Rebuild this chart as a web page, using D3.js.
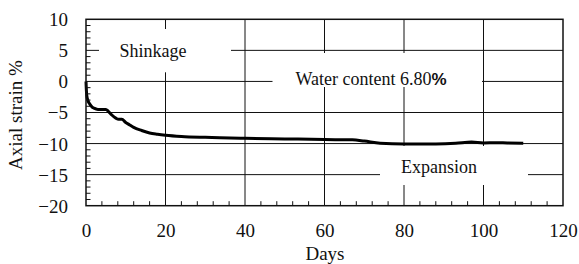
<!DOCTYPE html>
<html><head><meta charset="utf-8">
<script src="https://cdn.jsdelivr.net/npm/d3@7"></script>
<style>body{margin:0;background:#fff}svg{display:block}</style>
</head><body>
<svg id="c" width="579" height="264"></svg>
<script>
const days   = [0, 0.1, 0.2, 0.5, 1, 1.5, 2, 3, 4, 5, 5.6, 6.5, 7.5, 8.2, 9, 10, 11, 12, 14, 16, 18, 20, 24, 30, 40, 50, 60, 67, 70, 74, 80, 88, 93, 97, 100, 103, 106, 110];
const strain = [0, -1.5, -2.3, -3.1, -3.7, -4.1, -4.3, -4.5, -4.5, -4.5, -4.8, -5.4, -5.9, -6.1, -6.1, -6.6, -7.0, -7.4, -7.9, -8.3, -8.5, -8.65, -8.85, -9.0, -9.15, -9.25, -9.35, -9.4, -9.6, -9.95, -10.05, -10.05, -9.95, -9.75, -9.9, -9.85, -9.9, -9.95];
const xTicks = [0, 20, 40, 60, 80, 100, 120];
const yTicks = [10, 5, 0, -5, -10, -15, -20];
const xTitle = "Days";
const yTitle = "Axial strain %";

const svg = d3.select("#c");
const FONT = "'Liberation Serif', 'Times New Roman', serif";
const x = d3.scaleLinear().domain([0, 120]).range([86, 563]);
const y = d3.scaleLinear().domain([-20, 10]).range([205.7, 19.3]);
const ink = "#111";

// gridlines
const g = svg.append("g");
g.selectAll("line.v").data(xTicks.slice(1, -1)).join("line")
  .attr("x1", d => x(d)).attr("x2", d => x(d)).attr("y1", y(10)).attr("y2", y(-20))
  .attr("stroke", ink).attr("stroke-width", 1);
g.selectAll("line.h").data(yTicks.slice(1, -1)).join("line")
  .attr("x1", x(0)).attr("x2", x(120)).attr("y1", d => y(d)).attr("y2", d => y(d))
  .attr("stroke", ink).attr("stroke-width", 1);

// label boxes (white) that interrupt gridlines
const boxes = [
  {x0: 99, x1: 231, y0: 29, y1: 72.3, text: "Shinkage", tx: 153, ty: 57},
  {x0: 272.5, x1: 482, y0: 53, y1: 87, text: "Water content 6.80", pct: "%", tx: 371, ty: 85},
  {x0: 380, x1: 528, y0: 146, y1: 185, text: "Expansion", tx: 439, ty: 172.5}
];
svg.selectAll("rect.box").data(boxes).join("rect")
  .attr("x", d => d.x0).attr("y", d => d.y0)
  .attr("width", d => d.x1 - d.x0).attr("height", d => d.y1 - d.y0)
  .attr("fill", "#fff");
const lt = svg.selectAll("text.lbl").data(boxes).join("text")
  .attr("x", d => d.tx).attr("y", d => d.ty)
  .attr("text-anchor", "middle").attr("font-family", FONT).attr("font-size", 18).attr("fill", ink)
  .text(d => d.text);
lt.filter(d => d.pct).append("tspan").attr("font-weight", "bold").attr("font-family", "'Liberation Sans', Arial, sans-serif").attr("font-size", 17).text(d => d.pct);

// curve
const line = d3.line().x((d, i) => x(days[i])).y(d => y(d)).curve(d3.curveMonotoneX);
svg.append("path").datum(strain).attr("d", line)
  .attr("fill", "none").attr("stroke", "#000").attr("stroke-width", 3).attr("stroke-linejoin", "round");

// frame
svg.append("rect").attr("x", x(0)).attr("y", y(10)).attr("width", x(120) - x(0)).attr("height", y(-20) - y(10))
  .attr("fill", "none").attr("stroke", ink).attr("stroke-width", 1.5);

// minor ticks (inward)
const xMinor = d3.range(4, 120, 4).filter(d => d % 20 !== 0);
svg.selectAll("line.xm").data(xMinor).join("line")
  .attr("x1", d => x(d)).attr("x2", d => x(d)).attr("y1", y(-20)).attr("y2", y(-20) - 4.5)
  .attr("stroke", ink).attr("stroke-width", 1);
const yMinor = d3.range(-19, 10, 1).filter(d => d % 5 !== 0);
svg.selectAll("line.ym").data(yMinor).join("line")
  .attr("x1", x(0)).attr("x2", x(0) + 4.5).attr("y1", d => y(d)).attr("y2", d => y(d))
  .attr("stroke", ink).attr("stroke-width", 1);

// axes labels
const xAxis = d3.axisBottom(x).tickValues(xTicks).tickSize(0).tickPadding(0);
const xg = svg.append("g").attr("transform", `translate(0,${y(-20)})`).call(xAxis);
xg.select(".domain").remove();
xg.selectAll("text").attr("font-family", FONT).attr("font-size", 19).attr("fill", ink)
  .attr("dy", null).attr("y", 31);
const yAxis = d3.axisLeft(y).tickValues(yTicks).tickSize(0).tickPadding(0);
const yg = svg.append("g").attr("transform", `translate(68,0)`).call(yAxis);
yg.select(".domain").remove();
yg.selectAll("text").attr("font-family", FONT).attr("font-size", 19).attr("fill", ink).attr("x", 0).attr("dy", "0.34em");

svg.append("text").attr("x", 325).attr("y", 260).attr("text-anchor", "middle")
  .attr("font-family", FONT).attr("font-size", 19).attr("fill", ink).text(xTitle);
svg.append("text").attr("transform", "translate(22,115) rotate(-90)").attr("text-anchor", "middle")
  .attr("font-family", FONT).attr("font-size", 19).attr("fill", ink).text(yTitle);
</script>
</body></html>
